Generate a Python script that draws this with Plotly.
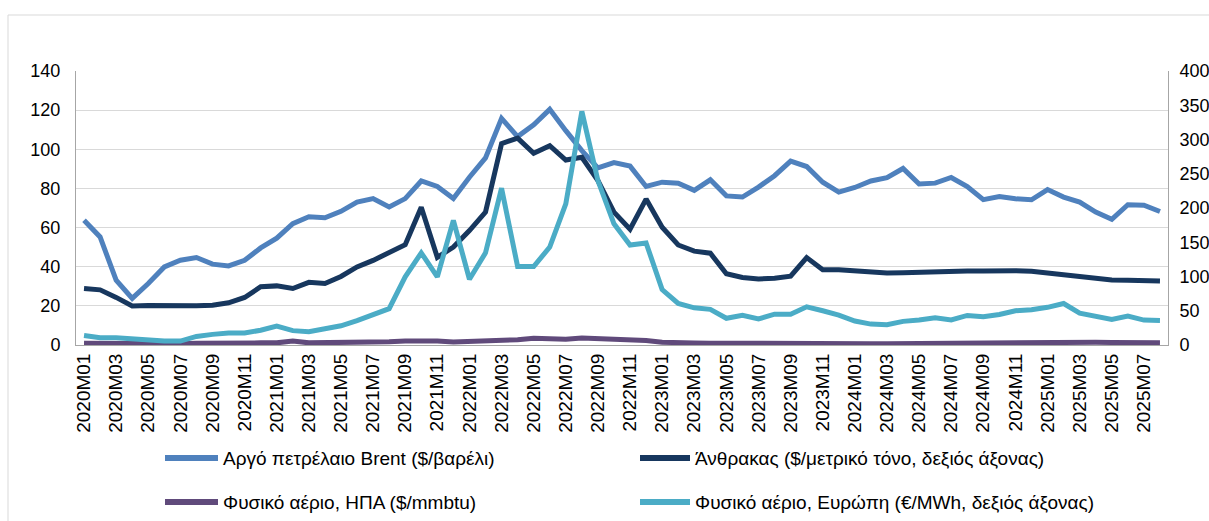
import plotly.graph_objects as go

years = [2020, 2021, 2022, 2023, 2024, 2025]
months = [f"{y}M{m:02d}" for y in years for m in range(1, 13)][:68]

brent = [63.7, 55.2, 33.1, 23.8, 31.4, 39.9, 43.3, 44.7, 41.3, 40.4, 43.3, 49.6,
         54.6, 62.0, 65.5, 65.0, 68.3, 73.0, 74.8, 70.5, 74.8, 83.8, 81.0, 74.8,
         85.7, 95.6, 115.8, 106.5, 112.5, 120.4, 109.5, 99.3, 90.5, 93.2, 91.4, 81.0,
         83.2, 82.7, 79.0, 84.4, 76.2, 75.6, 80.7, 86.5, 94.0, 91.2, 83.2, 78.1,
         80.5, 83.8, 85.5, 90.2, 82.3, 82.7, 85.6, 81.0, 74.3, 75.9, 74.7, 74.2,
         79.4, 75.6, 73.0, 67.9, 64.2, 71.7, 71.4, 68.2]

coal = [82.5, 80.5, 69.5, 57.0, 57.5, 57.0, 57.0, 57.2, 58.0, 61.6, 69.4, 85.0,
        86.3, 82.5, 91.5, 89.7, 100.0, 114.0, 123.5, 135.0, 146.5, 201.0, 128.0, 143.0,
        167.0, 194.0, 294.0, 302.0, 280.0, 291.0, 270.0, 274.0, 240.0, 194.0, 169.0, 213.0,
        172.0, 146.0, 137.0, 134.0, 104.0, 98.5, 96.5, 97.5, 100.4, 127.6, 110.0, 110.0,
        108.0, 106.0, 105.0, 105.5, 106.5, 107.0, 107.0, 108.0, 108.0, 108.5, 108.5, 107.5,
        105.0, 102.0, 99.0, 96.5, 95.0, 94.5, 94.0, 93.6]

gas_us = [0.9, 0.8, 0.7, 0.7, 0.7, 0.6, 0.7, 0.9, 0.8, 1.0, 1.1, 1.1,
          1.1, 2.0, 1.1, 1.1, 1.2, 1.3, 1.5, 1.6, 2.0, 2.1, 2.0, 1.5,
          1.8, 1.9, 2.0, 2.7, 3.4, 3.2, 3.0, 3.6, 3.3, 2.4, 2.3, 2.3,
          1.4, 1.0, 1.0, 0.9, 0.9, 0.9, 1.0, 1.0, 1.1, 1.2, 1.1, 1.0,
          1.3, 0.7, 0.6, 0.7, 0.9, 1.0, 0.9, 0.8, 0.9, 0.9, 0.9, 1.2,
          1.6, 1.7, 1.7, 1.4, 1.3, 1.3, 1.3, 1.2]

gas_eu = [14.0, 10.7, 10.7, 8.5, 6.5, 5.8, 5.8, 12.5, 15.5, 17.5, 17.5, 21.5,
          27.5, 21.0, 19.5, 24.0, 28.0, 35.5, 43.5, 53.0, 99.5, 134.5, 99.5, 182.0,
          96.0, 134.5, 229.0, 114.5, 114.5, 143.0, 206.0, 341.0, 240.0, 177.0, 146.0, 149.0,
          81.0, 60.6, 54.3, 52.0, 39.0, 43.2, 38.0, 45.0, 45.0, 55.8, 50.0, 43.7,
          35.0, 30.5, 29.5, 34.5, 36.5, 39.8, 36.5, 43.2, 41.2, 44.6, 50.0, 51.4,
          55.0, 60.6, 46.5, 42.2, 37.4, 42.2, 36.4, 35.9]

names = ["Αργό πετρέλαιο Brent ($/βαρέλι)",
         "Άνθρακας ($/μετρικό τόνο, δεξιός άξονας)",
         "Φυσικό αέριο, ΗΠΑ ($/mmbtu)",
         "Φυσικό αέριο, Ευρώπη (€/MWh, δεξιός άξονας)"]
colors = ["#4F81BD", "#17375E", "#604A7B", "#4BACC6"]

W, H = 1209, 521
L, R, T, B = 76, 41, 71, 176
pw, ph = W - L - R, H - T - B


def px_x(x):
    return (x - L) / pw


def px_y(y):
    return (H - B - y) / ph


FONT = "Liberation Sans, Arial, sans-serif"
LEG_FONT = 19

fig = go.Figure()
fig.add_trace(go.Scatter(x=months, y=brent, name=names[0], mode="lines",
                         line=dict(color=colors[0], width=5), yaxis="y"))
fig.add_trace(go.Scatter(x=months, y=gas_us, name=names[2], mode="lines",
                         line=dict(color=colors[2], width=5), yaxis="y"))
fig.add_trace(go.Scatter(x=months, y=coal, name=names[1], mode="lines",
                         line=dict(color=colors[1], width=5), yaxis="y2"))
fig.add_trace(go.Scatter(x=months, y=gas_eu, name=names[3], mode="lines",
                         line=dict(color=colors[3], width=5), yaxis="y2"))

# manual legend (2 x 2 grid) matching the reference layout
leg_rows = [458, 502]
leg_cols = [(165, 218), (640, 690)]
shapes = [dict(type="rect", xref="paper", yref="paper",
               x0=px_x(8), x1=px_x(1212), y0=px_y(530), y1=px_y(15),
               line=dict(color="#D9D9D9", width=1), layer="below")]
annotations = []
for k, (name, col) in enumerate(zip(names, colors)):
    r, c = divmod(k, 2)
    x0, x1 = leg_cols[c]
    y = px_y(leg_rows[r])
    shapes.append(dict(type="line", xref="paper", yref="paper",
                       x0=px_x(x0), x1=px_x(x1), y0=y, y1=y,
                       line=dict(color=col, width=6)))
    annotations.append(dict(text=name, xref="paper", yref="paper",
                            x=px_x(x1 + 3), y=y, xanchor="left", yanchor="middle",
                            showarrow=False,
                            font=dict(family=FONT, size=LEG_FONT, color="#000000")))

fig.update_layout(
    width=W, height=H,
    margin=dict(l=L, r=R, t=T, b=B, autoexpand=False),
    paper_bgcolor="white", plot_bgcolor="white",
    font=dict(family=FONT, size=18, color="#000000"),
    showlegend=False,
    xaxis=dict(type="category", categoryorder="array", categoryarray=months,
               range=[-0.5, 67.5], tickmode="linear", tick0=0, dtick=2,
               tickangle=-90, showgrid=False, showline=True, linecolor="#A6A6A6",
               linewidth=1, ticks="", tickfont=dict(size=19), automargin=False),
    yaxis=dict(range=[0, 140], dtick=20, showgrid=True, gridcolor="#D9D9D9",
               gridwidth=1, showline=True, linecolor="#A6A6A6", linewidth=1,
               zeroline=False, ticks="", ticklabelstandoff=11,
               tickfont=dict(size=18), automargin=False),
    yaxis2=dict(range=[0, 400], dtick=50, overlaying="y", side="right",
                showgrid=False, showline=True, linecolor="#A6A6A6", linewidth=1,
                zeroline=False, ticks="", ticklabelstandoff=7,
                tickfont=dict(size=18), automargin=False),
    shapes=shapes,
    annotations=annotations,
)

fig.write_html("out.html",
               config={"displayModeBar": False},
               post_script="document.body.style.margin='0px';document.body.style.overflow='hidden';")
